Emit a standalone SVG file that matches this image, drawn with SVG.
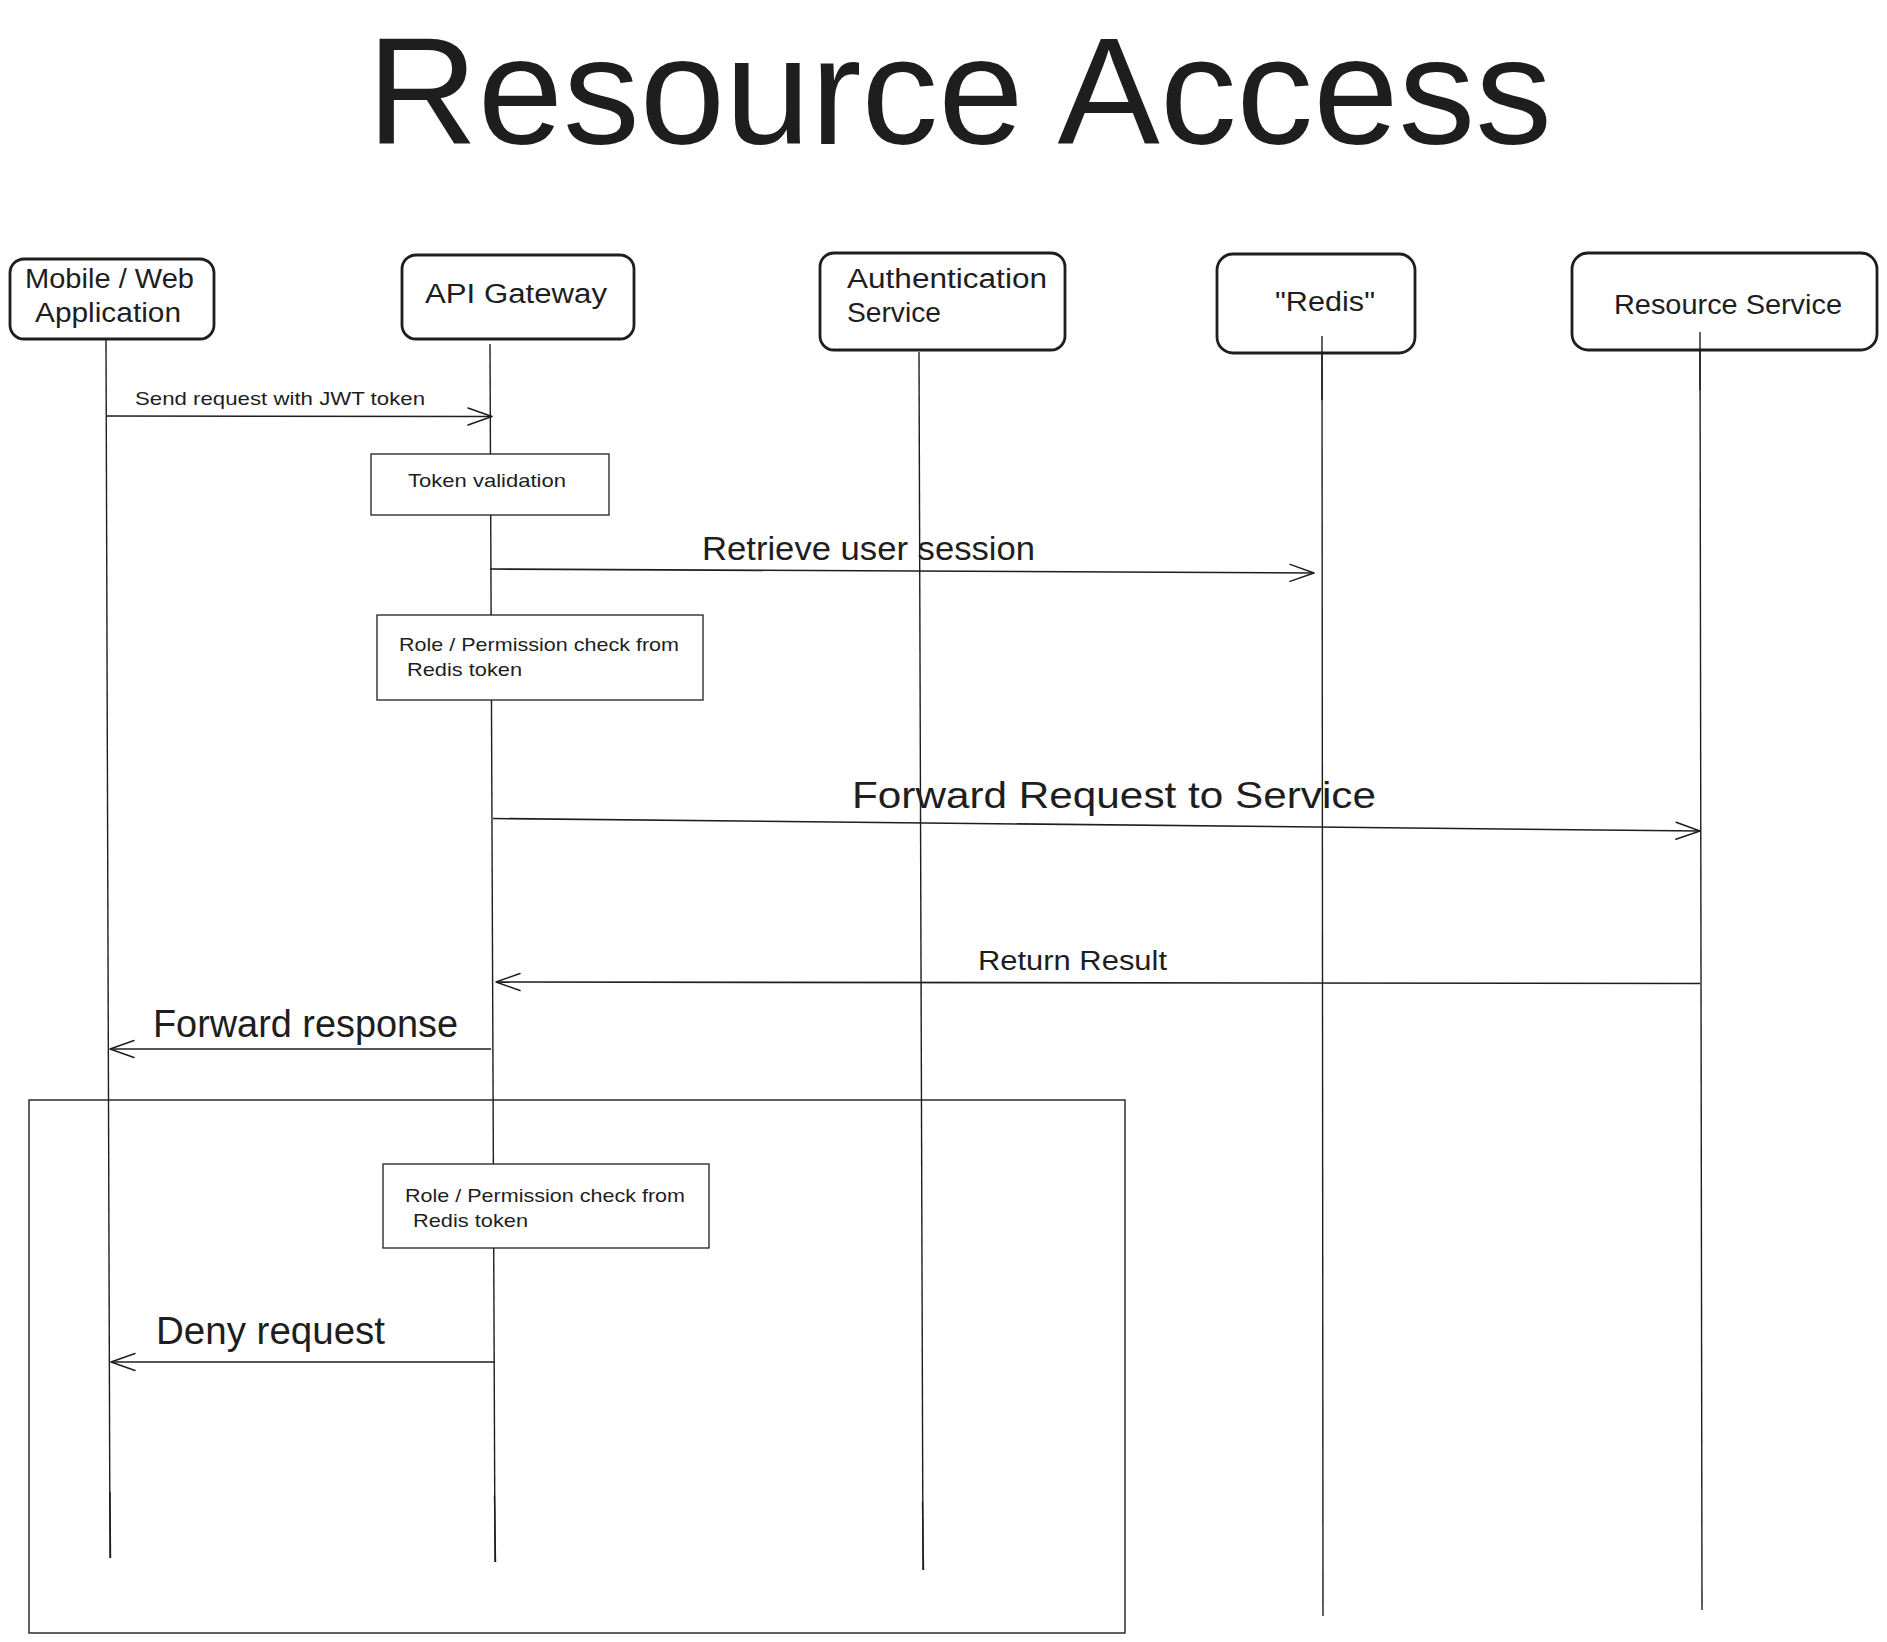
<svg xmlns="http://www.w3.org/2000/svg" width="1887" height="1642" viewBox="0 0 1887 1642">
  <defs>
    <style>
      text { font-family: "Liberation Sans", Arial, sans-serif; fill: #1e1e1e; }
      .title { font-size: 152px; }
      .node { fill: #ffffff; stroke: #1e1e1e; stroke-width: 2.8; }
      .nlabel { font-size: 27px; }
      .life { stroke: #1e1e1e; stroke-width: 1.4; fill: none; }
      .note { fill: #ffffff; stroke: #1e1e1e; stroke-width: 1.3; }
      .small { font-size: 19px; }
      .msg { stroke: #1e1e1e; stroke-width: 1.6; fill: none; marker-end: url(#arr); }
      .frame { fill: none; stroke: #1e1e1e; stroke-width: 1.4; }
    </style>
    <marker id="arr" viewBox="0 0 26 20" refX="25" refY="10" markerWidth="26" markerHeight="20" markerUnits="userSpaceOnUse" orient="auto">
      <path d="M1,1.5 L25,10 L1,18.5" fill="none" stroke="#1e1e1e" stroke-width="1.5" stroke-linecap="round" stroke-linejoin="round"/>
    </marker>
  </defs>

  <rect width="1887" height="1642" fill="#ffffff"/>

  <text id="title" class="title" x="367" y="144" textLength="1185" lengthAdjust="spacingAndGlyphs">Resource Access</text>

  <!-- frame -->
  <rect id="frame" class="frame" x="29" y="1100" width="1096" height="533"/>

  <!-- lifelines -->
  <g id="lifelines">
    <line class="life" x1="106" y1="340" x2="110" y2="1558"/>
    <line class="life" x1="110" y1="1492" x2="110.5" y2="1558"/>
    <line class="life" x1="490" y1="344" x2="495" y2="1562"/>
    <line class="life" x1="494.5" y1="1496" x2="495.5" y2="1562"/>
    <line class="life" x1="919" y1="352" x2="923" y2="1570"/>
    <line class="life" x1="922.5" y1="1502" x2="923.5" y2="1570"/>
    <line class="life" x1="1322" y1="336" x2="1323" y2="1616"/>
    <line class="life" x1="1700" y1="332" x2="1702" y2="1610"/>
  </g>

  <!-- nodes -->
  <g id="node-mobile">
    <rect class="node" x="10" y="259" width="204" height="80" rx="14"/>
    <text class="nlabel" x="25" y="288" textLength="169" lengthAdjust="spacingAndGlyphs">Mobile / Web</text>
    <text class="nlabel" x="35" y="322" textLength="146" lengthAdjust="spacingAndGlyphs">Application</text>
  </g>
  <g id="node-gateway">
    <rect class="node" x="402" y="255" width="232" height="84" rx="14"/>
    <text class="nlabel" x="425" y="303" textLength="182" lengthAdjust="spacingAndGlyphs">API Gateway</text>
  </g>
  <g id="node-auth">
    <rect class="node" x="820" y="253" width="245" height="97" rx="14"/>
    <text class="nlabel" x="847" y="288" textLength="200" lengthAdjust="spacingAndGlyphs">Authentication</text>
    <text class="nlabel" x="847" y="322" textLength="94" lengthAdjust="spacingAndGlyphs">Service</text>
  </g>
  <g id="node-redis">
    <rect class="node" x="1217" y="254" width="198" height="99" rx="16"/>
    <text class="nlabel" x="1275" y="311" textLength="100" lengthAdjust="spacingAndGlyphs">"Redis"</text>
    <line class="life" x1="1322" y1="336" x2="1322" y2="400"/>
  </g>
  <g id="node-resource">
    <rect class="node" x="1572" y="253" width="305" height="97" rx="16"/>
    <text class="nlabel" x="1614" y="314" textLength="228" lengthAdjust="spacingAndGlyphs">Resource Service</text>
    <line class="life" x1="1700" y1="332" x2="1700" y2="390"/>
  </g>

  <!-- notes -->
  <g id="note-token">
    <rect class="note" x="371" y="454" width="238" height="61"/>
    <text class="small" x="408" y="487" textLength="158" lengthAdjust="spacingAndGlyphs">Token validation</text>
  </g>
  <g id="note-role-1">
    <rect class="note" x="377" y="615" width="326" height="85"/>
    <text class="small" x="399" y="651" textLength="280" lengthAdjust="spacingAndGlyphs">Role / Permission check from</text>
    <text class="small" x="407" y="676" textLength="115" lengthAdjust="spacingAndGlyphs">Redis token</text>
  </g>
  <g id="note-role-2">
    <rect class="note" x="383" y="1164" width="326" height="84"/>
    <text class="small" x="405" y="1202" textLength="280" lengthAdjust="spacingAndGlyphs">Role / Permission check from</text>
    <text class="small" x="413" y="1227" textLength="115" lengthAdjust="spacingAndGlyphs">Redis token</text>
  </g>

  <!-- connectors -->
  <g id="connectors">
    <path class="msg" d="M106,416 L492,416.5"/>
    <text class="small" x="135" y="405" textLength="290" lengthAdjust="spacingAndGlyphs">Send request with JWT token</text>

    <path class="msg" d="M490,569 L1314,573"/>
    <text x="702" y="560" font-size="33" textLength="333" lengthAdjust="spacingAndGlyphs">Retrieve user session</text>

    <path class="msg" d="M493,818.5 L1700,831"/>
    <text x="852" y="808" font-size="37" textLength="524" lengthAdjust="spacingAndGlyphs">Forward Request to Service</text>

    <path class="msg" d="M1700,983.5 L496,982"/>
    <text x="978" y="970" font-size="27" textLength="189" lengthAdjust="spacingAndGlyphs">Return Result</text>

    <path class="msg" d="M491,1049 L110,1049"/>
    <text x="153" y="1037" font-size="38" textLength="305" lengthAdjust="spacingAndGlyphs">Forward response</text>

    <path class="msg" d="M495,1362 L111,1362"/>
    <text x="156" y="1344" font-size="38" textLength="229" lengthAdjust="spacingAndGlyphs">Deny request</text>
  </g>
</svg>
